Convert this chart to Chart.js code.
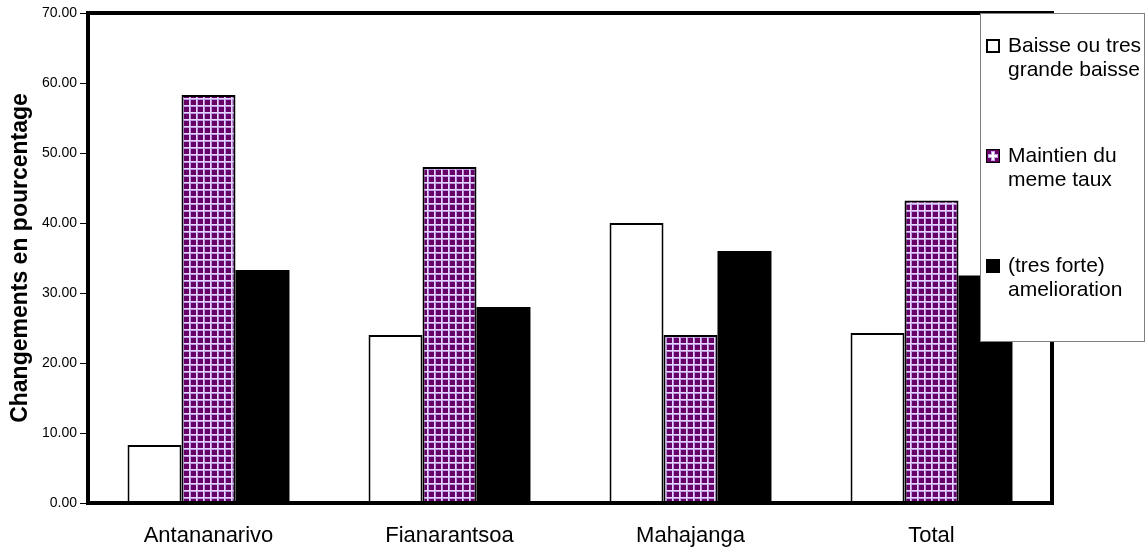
<!DOCTYPE html>
<html>
<head>
<meta charset="utf-8">
<script src="https://cdn.jsdelivr.net/npm/chart.js@4"></script>
<style>
  html, body { margin: 0; padding: 0; background: #ffffff; }
  #wrap { width: 1147px; height: 554px; }
</style>
</head>
<body>
<div id="wrap"><canvas id="c" width="1147" height="554"></canvas></div>
<script>
// Survey regions and the share (%) of each change category
const categories = ['Antananarivo', 'Fianarantsoa', 'Mahajanga', 'Total'];
const baisse = [8.3, 24.0, 40.0, 24.3];
const maintien = [58.3, 48.0, 24.0, 43.2];
const amelioration = [33.3, 28.0, 36.0, 32.5];

const seriesLabels = ['Baisse ou tres grande baisse', 'Maintien du meme taux', '(tres forte) amelioration'];
const legendLines = [['Baisse ou tres', 'grande baisse'], ['Maintien du', 'meme taux'], ['(tres forte)', 'amelioration']];
const yTitle = 'Changements en pourcentage';
const yMin = 0, yMax = 70, yStep = 10;

const FONT = '"Liberation Sans", Arial, sans-serif';

// Purple grid hatch used for the "maintien" bars
function gridPattern(ctx) {
  const t = document.createElement('canvas');
  t.width = 7; t.height = 7;
  const g = t.getContext('2d');
  g.fillStyle = '#660066';
  g.fillRect(0, 0, 7, 7);
  g.fillStyle = '#b896e2';
  g.fillRect(0, 1, 7, 1);
  g.fillRect(1, 0, 1, 7);
  g.fillStyle = '#e6d6ff';
  g.fillRect(0, 0, 7, 1);
  g.fillRect(0, 0, 1, 7);
  return ctx.createPattern(t, 'repeat');
}

const canvas = document.getElementById('c');
const ctx = canvas.getContext('2d');
const hatch = gridPattern(ctx);

// Thick black frame around the plotting area
const framePlugin = {
  id: 'frame',
  afterDatasetsDraw(chart) {
    const { ctx, chartArea: a } = chart;
    ctx.save();
    ctx.strokeStyle = '#000';
    ctx.lineWidth = 4;
    ctx.strokeRect(a.left, a.top, a.right - a.left, a.bottom - a.top);
    ctx.restore();
  }
};

// Boxed legend on the right with two-line entries
const sideLegend = {
  id: 'sideLegend',
  afterDraw(chart) {
    const ctx = chart.ctx;
    const bx = 980, by = 13, bw = 164, bh = 328;
    ctx.save();
    ctx.fillStyle = '#fff';
    ctx.fillRect(bx, by, bw, bh);
    ctx.strokeStyle = '#808080';
    ctx.lineWidth = 1;
    ctx.strokeRect(bx + 0.5, by + 0.5, bw, bh);

    ctx.font = '21px ' + FONT;
    ctx.textBaseline = 'alphabetic';
    ctx.textAlign = 'left';
    legendLines.forEach((lines, i) => {
      const base = 52 + i * 110;
      const ix = 986, iy = base - 13, s = 14;
      if (i === 0) {
        ctx.fillStyle = '#fff';
        ctx.fillRect(ix, iy, s, s);
        ctx.strokeStyle = '#000';
        ctx.lineWidth = 2;
        ctx.strokeRect(ix + 1, iy + 1, s - 2, s - 2);
      } else if (i === 1) {
        ctx.fillStyle = '#000';
        ctx.fillRect(ix, iy, s, s);
        ctx.fillStyle = '#660066';
        ctx.fillRect(ix + 1, iy + 1, s - 2, s - 2);
        ctx.fillStyle = '#c9a8f0';
        ctx.fillRect(ix + 5, iy + 2, 4, s - 4);
        ctx.fillRect(ix + 2, iy + 5, s - 4, 4);
        ctx.fillStyle = '#ffffff';
        ctx.fillRect(ix + 6, iy + 3, 2, s - 6);
        ctx.fillRect(ix + 3, iy + 6, s - 6, 2);
      } else {
        ctx.fillStyle = '#000';
        ctx.fillRect(ix, iy, s, s);
      }
      ctx.fillStyle = '#000';
      lines.forEach((ln, k) => ctx.fillText(ln, 1008, base + k * 24));
    });
    ctx.restore();
  }
};

new Chart(ctx, {
  type: 'bar',
  data: {
    labels: categories,
    datasets: [
      { label: seriesLabels[0], data: baisse, backgroundColor: '#ffffff', borderColor: '#000000', borderWidth: 2 },
      { label: seriesLabels[1], data: maintien, backgroundColor: hatch, borderColor: '#000000', borderWidth: 2 },
      { label: seriesLabels[2], data: amelioration, backgroundColor: '#000000', borderColor: '#000000', borderWidth: 0 }
    ]
  },
  options: {
    responsive: false,
    animation: false,
    events: [],
    layout: { padding: { top: 13, right: 95, left: 0, bottom: 0 } },
    datasets: { bar: { categoryPercentage: 0.672, barPercentage: 1.0, borderSkipped: 'start' } },
    plugins: { legend: { display: false }, tooltip: { enabled: false } },
    scales: {
      x: {
        grid: { display: false, drawTicks: false },
        border: { display: false },
        ticks: { color: '#000', font: { family: FONT, size: 22 }, padding: 20, maxRotation: 0 },
        afterFit(scale) { scale.height = 51; }
      },
      y: {
        min: yMin, max: yMax,
        grid: { drawOnChartArea: false, drawTicks: true, tickLength: 8, color: '#000', lineWidth: 1 },
        border: { display: false },
        ticks: { stepSize: yStep, color: '#000', font: { family: FONT, size: 14 }, padding: 3,
                 callback: v => Number(v).toFixed(2) },
        title: { display: true, text: yTitle, color: '#000',
                 font: { family: FONT, size: 23, weight: 'bold' }, padding: { top: 7, bottom: 0 } },
        afterFit(scale) { scale.width = 88; }
      }
    }
  },
  plugins: [framePlugin, sideLegend]
});
</script>
</body>
</html>
